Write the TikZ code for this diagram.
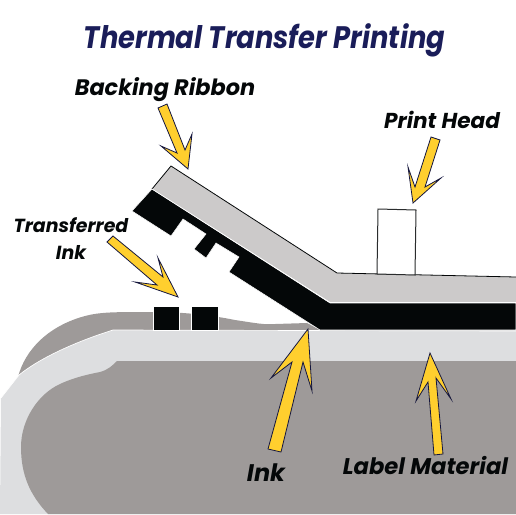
\documentclass[tikz,border=0pt]{standalone}
\usepackage{fontspec}
\setmainfont{Poppins}
\definecolor{ribbon}{HTML}{CCCACA}
\definecolor{lightlayer}{HTML}{DDDEE0}
\definecolor{darklayer}{HTML}{9E9A99}
\definecolor{inkblack}{HTML}{040708}
\definecolor{arrowfill}{HTML}{FFCF2E}
\definecolor{arrowline}{HTML}{14163F}
\definecolor{titleblue}{HTML}{1A1D59}
\tikzset{
  pointer/.style={fill=arrowfill,draw=arrowline,line width=0.6pt,line join=miter,miter limit=20},
  lab/.style={font=\fontsize{#1}{#1}\selectfont\bfseries\itshape,text=inkblack,inner sep=0pt,anchor=base},
  inkshape/.style={fill=inkblack,draw=white,line width=0.4pt}
}
\begin{document}
\begin{tikzpicture}[x=0.75pt,y=-0.75pt]
\useasboundingbox (0,0) rectangle (516,514);
% dark hump
\fill[darklayer] (18,377) .. controls (25,350) and (48,326) .. (85,316)
  .. controls (100,312) and (115,312) .. (150,312)
  .. controls (190,312) and (215,316) .. (235,320)
  .. controls (255,323) and (265,325) .. (275,324)
  -- (307,323) -- (322,331) -- (113,331) -- cycle;
% light layer
\fill[lightlayer] (113,330) -- (516,331) -- (516,514) -- (0,514) -- (1,398) -- (19,375)
  .. controls (40,358) and (75,342) .. (113,330) -- cycle;
\draw[white,line width=0.5pt] (1,398) -- (19,375) .. controls (40,358) and (75,342) .. (113,330) -- (516,331);
% dark base
\fill[darklayer] (117,361) -- (516,361) -- (516,514) -- (48,514)
  .. controls (30,495) and (21,475) .. (21,447)
  .. controls (21,420) and (38,394) .. (60,384)
  .. controls (75,377) and (90,374) .. (100,372)
  .. controls (108,370) and (113,365) .. (117,361) -- cycle;
% ink on ribbon
\path[inkshape] (152,189) -- (330,303) -- (516,303) -- (516,330) -- (320,330) -- (229,272)
  -- (239,257) -- (216,243) -- (206,258) -- (194,249) -- (206,234) -- (183,219)
  -- (171,236) -- (132,211) -- cycle;
% ribbon
\fill[ribbon] (171,166) -- (337,273) -- (516,277) -- (516,302) -- (330,302) -- (152,189) -- cycle;
\draw[inkblack,line width=0.6pt,line join=round] (152,189) -- (171,166) -- (337,273) -- (516,277);
\draw[white,line width=0.5pt] (152,189) -- (330,302.5) -- (516,302.5);
% transferred squares
\path[inkshape] (153,306) rectangle (179,330);
\path[inkshape] (191,306) rectangle (218,330);
% print head
\draw[fill=white,draw=inkblack!85,line width=0.75pt] (378,209) -- (416,210) -- (415,275) -- (377,274) -- cycle;
% pointers
\path[pointer] (158,108) -- (167,104) -- (185,150) -- (192,134) -- (188,169) -- (161,146) -- (177,153) -- cycle;
\path[pointer] (431,137) -- (440,140) -- (425,187) -- (441,178) -- (413,203) -- (408,167) -- (415,187) -- cycle;
\path[pointer] (107,242) -- (113,236) -- (163,277) -- (158,258) -- (178,297) -- (135,282) -- (157,285) -- cycle;
\path[pointer] (268,449) -- (281,452) -- (303,362) -- (312,391) -- (308,329) -- (271,378) -- (292,362) -- cycle;
\path[pointer] (434,455) -- (443,454) -- (436,378) -- (451,399) -- (430,353) -- (416,401) -- (428,382) -- cycle;
% labels
\node[lab=23.3,text=titleblue] (title) at (264.5,48) {\addfontfeature{FakeStretch=0.88}Thermal Transfer Printing};
\node[lab=16.8] (backing) at (165,95) {Backing Ribbon};
\node[lab=16.2] (head) at (442,128) {Print Head};
\node[lab=14.2] (transferred) at (71,232) {Transferred};
\node[lab=14.2] (inkone) at (71,259) {Ink};
\node[lab=18] (inktwo) at (266,481) {Ink};
\node[lab=17] (material) at (425.5,474) {Label Material};
\end{tikzpicture}
\end{document}
